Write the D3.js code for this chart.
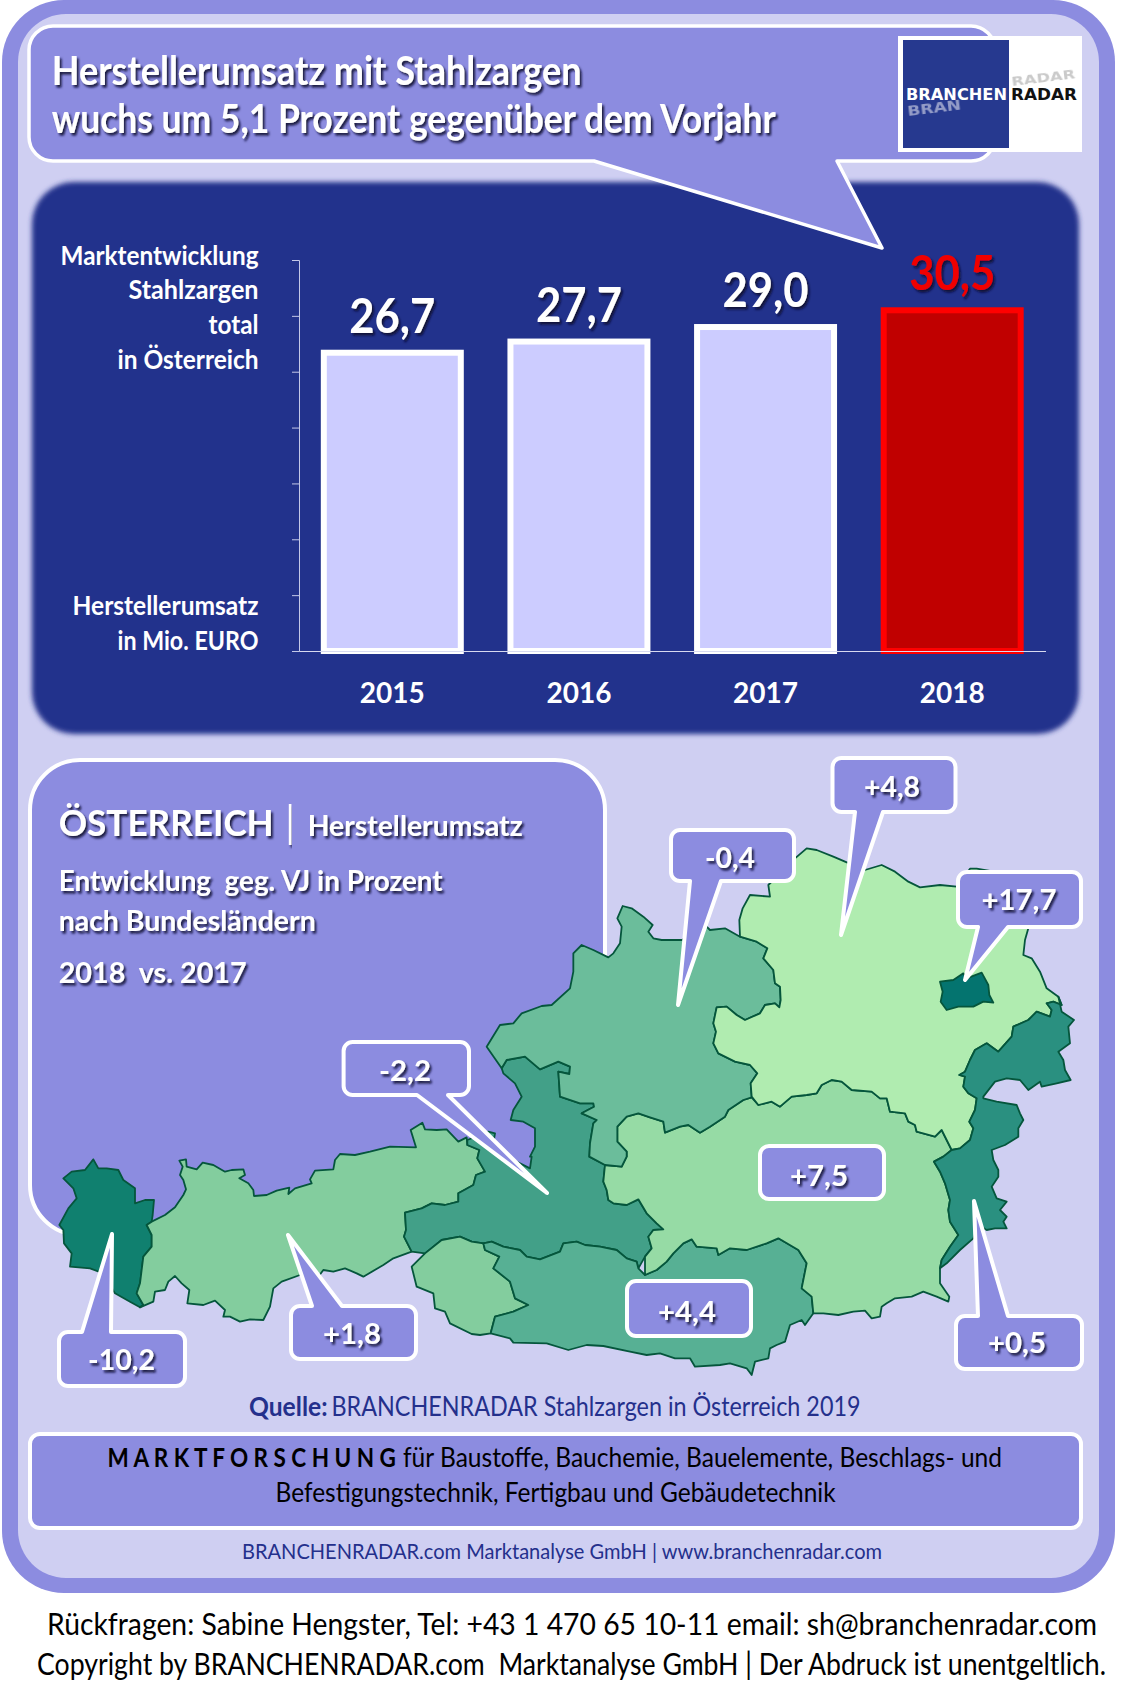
<!DOCTYPE html>
<html lang="de">
<head>
<meta charset="utf-8">
<script src="https://cdn.jsdelivr.net/npm/d3@7/dist/d3.min.js"></script>
<style>
html,body{margin:0;padding:0;background:#fff}
svg{display:block}
text{font-family:Lato,"Open Sans",sans-serif}
</style>
</head>
<body>
<svg id="chart" width="1122" height="1688" viewBox="0 0 1122 1688"></svg>
<script>
/* ---------- chart data ---------- */
const years = ["2015","2016","2017","2018"];
const revenue = [26.7,27.7,29.0,30.5];
const axisTicks = [0,5,10,15,20,25,30,35];
const states = ["Vorarlberg","Tirol","Salzburg","Osttirol","Kaernten","Steiermark","Oberoesterreich","Niederoesterreich","Burgenland","Wien"];
const stateColors = ["#10806f","#83cd9e","#42a088","#83cd9e","#57b094","#96dba5","#6bbd9b","#b0ecb0","#2a9080","#04746f"];
const calloutValues = [4.8,-0.4,17.7,-2.2,7.5,4.4,-10.2,1.8,0.5];

/* ---------- map outline in tile coordinates ---------- */
const t = (ox,oy,p)=>p.map(([x,y])=>[ox+x/3,oy+y/3]);
const T4=(p)=>t(40,1120,p), T5=(p)=>t(390,1030,p), T6=(p)=>t(400,1190,p),
      T7=(p)=>t(480,890,p), T8=(p)=>t(700,830,p), T9=(p)=>t(780,1070,p);
const rev = a=>a.slice().reverse();

const aVT = T4([[335,305],[320,315],[335,345],[335,380],[310,410],[305,450],[300,490],[290,520],[310,555],[300,562]]);
const vorOuter = T4([[270,545],[225,520],[190,460],[150,445],[90,440],[95,400],[72,370],[70,330],[58,315],[85,265],[110,235],[100,205],[70,175],[95,155],[135,150],[160,118],[175,145],[200,145],[235,150],[250,180],[285,205],[285,250],[315,240],[342,240],[338,285]]);
const tirolN = T4([[375,285],[405,262],[430,225],[438,208],[430,180],[420,165],[428,140],[418,122],[438,118],[440,140],[470,148],[488,128],[520,135],[555,155],[575,150],[610,148],[615,165],[598,175],[625,190],[640,210],[642,228],[680,225],[710,212],[748,203],[745,222],[765,205],[815,190],[810,178],[825,152],[880,148],[885,120],[900,102],[945,105],[990,95],[1050,80]])
  .concat(T5([[78,352],[62,300],[97,278],[105,298],[140,300],[170,298],[205,335],[230,322]]));
const aTS = T5([[232,345],[268,360],[262,385],[285,425],[258,435],[250,465],[205,490],[205,515],[165,525],[125,520],[95,535],[45,548],[48,600],[42,620],[65,665]]);
const tirolS = T4([[1060,415],[1030,435],[970,470],[950,460],[915,445],[880,455],[850,450],[835,470],[780,465],[725,485],[700,505],[690,560],[670,600],[630,598],[600,605],[570,590],[550,590],[555,570],[525,542],[490,555],[442,550],[448,510],[425,490],[405,468],[385,485],[375,510],[345,515],[340,545]]);
const aSE = T6([[75,190],[125,150],[180,140],[215,155],[250,160]]);
const aSK = T6([[275,155],[310,170],[360,180],[380,200],[420,208],[480,185],[490,160],[530,155],[555,165],[600,170],[650,180],[680,205],[710,215],[715,235]]);
const aSSt = T6([[735,200],[755,175],[745,140],[760,120],[790,118],[770,100],[740,70],[715,28],[680,45],[640,40],[625,30],[620,0]]).concat(T5([[640,455],[645,405]]));
const aSO = T7([[375,825],[328,800],[330,760],[340,700],[350,690],[305,670],[342,650],[340,640],[300,640],[240,620],[235,545],[268,552],[270,530],[235,515],[180,538],[135,500],[80,510],[65,535]]);
const salzW = T7([[70,550],[105,580],[125,620],[100,660],[92,690],[130,695],[165,715],[165,770],[150,800]]).concat(T5([[425,380],[420,415],[360,385],[310,340],[315,310],[295,305],[232,330]]));
const aEK = T6([[255,180],[298,200],[280,235],[330,275],[345,325],[385,345],[340,365],[285,380],[272,430]]);
const etOuter = T6([[240,435],[215,432],[150,400],[135,365],[105,355],[100,310],[50,290],[35,230]]);
const aKSt = T6([[735,255],[770,240],[800,215],[820,190],[850,160],[875,148],[890,170],[950,175],[955,195],[990,175],[1040,180],[1100,160],[1135,145],[1195,180],[1220,220],[1205,295],[1235,320],[1240,370]]);
const kOuter = T6([[1215,405],[1205,390],[1170,405],[1155,455],[1130,465],[1110,475],[1105,505],[1065,515],[1055,555],[1040,535],[990,520],[960,525],[885,530],[870,505],[825,505],[780,490],[740,495],[690,485],[610,468],[560,465],[505,480],[440,460],[340,458],[330,445]]);
const aOSt = T7([[425,830],[440,800],[440,785],[412,755],[412,710],[440,680],[475,670],[510,682],[550,695],[555,728],[600,710],[625,705],[660,728],[690,710],[735,680],[745,660],[790,630],[815,622]]);
const aNSt = T8([[175,825],[215,815],[240,830]]).concat(T9([[35,80],[80,75],[110,70],[125,45],[155,30],[185,35],[215,60],[275,65],[300,85],[320,85],[330,125],[375,130],[385,155],[405,165],[410,185],[465,200],[485,180],[500,210],[515,240]]));
const burgW = T9([[490,260],[462,275],[480,305],[495,340],[510,390],[505,420],[510,455],[535,495],[510,530],[485,570],[480,595]]);
const stOuter = T9([[480,640],[508,680],[505,695],[470,680],[430,665],[395,680],[345,685],[320,700],[305,710],[300,740],[275,745],[255,722],[220,725],[175,735],[130,730]]);
const ooNorth = T7([[20,470],[60,405],[100,400],[125,370],[185,348],[215,345],[270,295],[280,245],[280,190],[305,165],[340,180],[385,202],[400,190],[420,160],[425,110],[412,85],[428,48],[455,55],[490,80],[518,105],[505,125],[520,145],[545,150],[605,150],[680,110],[690,120],[735,115],[780,140]]);
const aON = T7([[830,155],[862,175],[850,205],[880,240],[885,280],[900,290],[902,330],[898,352],[885,340],[855,345],[840,370],[795,390],[770,375],[740,350],[710,352],[700,400],[708,425],[700,460],[715,490],[765,515],[810,525],[832,550],[812,580],[815,620]]);
const nOuter = T8([[120,320],[118,270],[128,235],[150,195],[210,200],[205,165],[285,85],[320,55],[350,60],[400,80],[435,95],[495,120],[545,105],[585,125],[625,155],[660,172],[720,165],[770,170],[810,116],[830,116],[900,128],[985,295],[975,330],[970,375],[995,385],[1020,425],[1040,475],[1075,500]]);
const aNB = T8([[1085,525],[1060,515],[1040,520],[1055,540],[1050,560],[1010,545],[985,570],[940,590],[935,620],[895,665],[860,640],[825,660],[810,690],[795,725],[778,735],[795,740],[790,770],[805,790]]).concat(T9([[590,85],[585,120],[568,155],[580,175],[570,210],[540,235],[515,240]]));
const bOuter = T8([[1075,500],[1085,545],[1122,570],[1105,590],[1110,640],[1075,665],[1090,690],[1095,720],[1112,750],[1070,760],[1025,770],[1020,755],[985,780],[960,750],[920,745],[885,755],[850,800]]).concat(T9([[610,85],[650,95],[710,105],[720,130],[730,150],[715,175],[715,200],[675,225],[635,240],[640,270],[655,300],[655,320],[635,350],[650,385],[680,395],[660,420],[680,440],[670,455],[680,475],[645,475],[620,480],[595,465],[580,505],[540,540],[500,580]]));
const wien = T8([[720,455],[760,450],[790,430],[800,445],[845,428],[865,465],[868,495],[880,518],[850,515],[820,530],[775,530],[740,540],[722,515],[728,485]]);

const rings = [
  aVT.concat(vorOuter),
  [aVT[0]].concat(tirolN,aTS,tirolS,rev(aVT)),
  aTS.concat(aSE,aSK,aSSt,aSO.slice(1),salzW),
  T6([[250,160]]).concat(aEK,etOuter,aSE.slice(0,4)),
  T6([[250,160]]).concat(aSK,aKSt,kOuter,rev(aEK)),
  aSSt.concat(aOSt,aNSt,burgW,stOuter,rev(aKSt)),
  aSO.concat(ooNorth,aON,rev(aOSt)),
  nOuter.concat(aNB,rev(aNSt),rev(aON)),
  bOuter.concat(rev(burgW),rev(aNB)),
  wien
];

/* ---------- layout ---------- */
const svg = d3.select("#chart");
const PURPLE="#8c8ce0", LAV="#cfcff2", NAVY="#24308c";

const defs = svg.append("defs");
const shadow = defs.append("filter").attr("id","shadow").attr("x","-10%").attr("y","-20%").attr("width","125%").attr("height","150%");
shadow.append("feDropShadow").attr("dx",2).attr("dy",2.5).attr("stdDeviation",0.8).attr("flood-color","#0a0a30").attr("flood-opacity",0.9);
defs.append("filter").attr("id","soft").attr("x","-5%").attr("y","-5%").attr("width","110%").attr("height","110%")
  .append("feGaussianBlur").attr("stdDeviation",2.5);
defs.append("filter").attr("id","ghost").append("feGaussianBlur").attr("stdDeviation",0.5);

function label(g,str,x,y,o){
  const el=g.append("text").attr("x",x).attr("y",y).text(str)
    .attr("font-size",o.size).attr("font-weight",o.weight||700)
    .attr("fill",o.fill||"#fff").attr("text-anchor",o.anchor||"start");
  if(o.width) el.attr("textLength",o.width).attr("lengthAdjust","spacingAndGlyphs");
  if(o.shadow) el.attr("filter","url(#shadow)");
  return el;
}
function callout(g,x,y,w,h,r,tail){
  const p=d3.path(), R=x+w, B=y+h;
  const up=tail&&tail[1][1]<y;
  p.moveTo(x+r,y);
  if(up){p.lineTo(tail[0],y);p.lineTo(tail[1][0],tail[1][1]);p.lineTo(tail[2],y);}
  p.lineTo(R-r,y); p.arcTo(R,y,R,y+r,r); p.lineTo(R,B-r); p.arcTo(R,B,R-r,B,r);
  if(tail&&!up){p.lineTo(tail[2],B);p.lineTo(tail[1][0],tail[1][1]);p.lineTo(tail[0],B);}
  p.lineTo(x+r,B); p.arcTo(x,B,x,B-r,r); p.lineTo(x,y+r); p.arcTo(x,y,x+r,y,r); p.closePath();
  return g.append("path").attr("d",p.toString()).attr("fill",PURPLE).attr("stroke","#fff").attr("stroke-width",4).attr("stroke-linejoin","round");
}

/* frame */
svg.append("rect").attr("x",2).attr("y",0).attr("width",1113).attr("height",1593).attr("rx",62).attr("fill",PURPLE);
svg.append("rect").attr("x",18).attr("y",14).attr("width",1081).attr("height",1564).attr("rx",48).attr("fill",LAV);

/* chart panel */
svg.append("rect").attr("x",32).attr("y",182).attr("width",1047).attr("height",552).attr("rx",42).attr("fill",NAVY).attr("filter","url(#soft)");

/* header callout */
const head=svg.append("g");
callout(head,29,26,966,135,24,[594,[882,248],837]).attr("stroke-width",3.5);
label(head,"Herstellerumsatz mit Stahlzargen",51.7,85,{size:40,width:530,shadow:true});
label(head,"wuchs um 5,1 Prozent gegenüber dem Vorjahr",51.7,133,{size:40,width:724,shadow:true});

/* logo */
const logo=svg.append("g");
logo.append("rect").attr("x",898).attr("y",36).attr("width",184).attr("height",116).attr("fill","#fff");
logo.append("rect").attr("x",903).attr("y",40).attr("width",106).attr("height",108).attr("fill","#26398f");
const logoFont='"DejaVu Sans",sans-serif';
label(logo,"BRAN",908,116,{size:14,width:54,fill:"#cfd2e6"}).style("font-family",logoFont).attr("opacity",.65)
  .attr("transform","rotate(-7 908 116)").attr("filter","url(#ghost)");
label(logo,"RADAR",1012,86,{size:13,width:64,fill:"#bdbdbd"}).style("font-family",logoFont).attr("opacity",.8)
  .attr("transform","rotate(-7 1012 86)").attr("filter","url(#ghost)");
label(logo,"BRANCHEN",906,100,{size:16,width:101}).style("font-family",logoFont);
label(logo,"RADAR",1011,100,{size:16,width:66,fill:"#111"}).style("font-family",logoFont);

/* bars */
const x=d3.scaleBand().domain(years).range([299,1045.5]).paddingInner(.266).paddingOuter(.133);
const y=d3.scaleLinear().domain([0,35]).range([651,260]);
const fmt=v=>v.toFixed(1).replace(".",",");
const axisL=svg.append("g").attr("transform","translate(299,0)")
  .call(d3.axisLeft(y).tickValues(axisTicks).tickSize(7).tickFormat(""));
axisL.selectAll("path,line").attr("stroke","#c4c8e8").attr("stroke-width",1);
svg.selectAll("rect.bar").data(years).join("rect").attr("class","bar")
  .attr("x",d=>x(d)).attr("width",x.bandwidth())
  .attr("y",(d,i)=>y(revenue[i])).attr("height",(d,i)=>y(0)-y(revenue[i]))
  .attr("fill",(d,i)=>i===3?"#c00000":"#ccccff")
  .attr("stroke",(d,i)=>i===3?"#ff0000":"#fff").attr("stroke-width",6);
const axisB=svg.append("g").attr("transform","translate(0,651)").call(d3.axisBottom(x).tickSize(0).tickPadding(0));
axisB.select("path").attr("stroke","#d8daf0").attr("stroke-width",1);
axisB.selectAll("text").attr("y",52).attr("dy",0).attr("font-size",29).attr("font-weight",700).attr("fill","#fff")
  .attr("textLength",65).attr("lengthAdjust","spacingAndGlyphs").style("font-family","Lato,sans-serif");
const valueG=svg.append("g");
years.forEach((d,i)=>label(valueG,fmt(revenue[i]),x(d)+x.bandwidth()/2,y(revenue[i])-20,
  {size:48,width:86,anchor:"middle",fill:i===3?"#f00000":"#fff",shadow:true}));

/* axis captions */
const capG=svg.append("g");
[["Marktentwicklung",265,198],["Stahlzargen",299,130],["total",334,50],["in Österreich",369,141],["Herstellerumsatz",615,186],["in Mio. EURO",650,141]]
  .forEach(c=>label(capG,c[0],258.5,c[1],{size:27,width:c[2],anchor:"end"}));

/* map intro panel */
const panel=svg.append("g");
panel.append("rect").attr("x",30).attr("y",760).attr("width",575).attr("height",475).attr("rx",50).attr("fill",PURPLE).attr("stroke","#fff").attr("stroke-width",4);
label(panel,"ÖSTERREICH",58.7,836,{size:37,width:215,weight:700,shadow:true});
panel.append("rect").attr("x",288.8).attr("width",2.6).attr("y",804).attr("height",41).attr("fill","#fff").attr("filter","url(#shadow)");
label(panel,"Herstellerumsatz",307.7,836,{size:28,width:215,shadow:true});
label(panel,"Entwicklung  geg. VJ in Prozent",58.7,891,{size:28,width:384,shadow:true}).attr("xml:space","preserve");
label(panel,"nach Bundesländern",58.7,931,{size:28,width:257,shadow:true});
label(panel,"2018  vs. 2017",58.7,983,{size:28,width:188,shadow:true}).attr("xml:space","preserve");

/* map */
const geo=d3.geoPath(d3.geoIdentity());
const features=states.map((s,i)=>({type:"Feature",properties:{name:s},geometry:{type:"Polygon",coordinates:[rings[i].concat([rings[i][0]])]}}));
svg.append("g").selectAll("path").data(features).join("path")
  .attr("d",geo).attr("fill",(d,i)=>stateColors[i])
  .attr("stroke","#05563c").attr("stroke-width",1.8).attr("stroke-linejoin","round");

/* value callouts: box x, y, w, h, tail */
const boxes=[
  [832.5,758,123,54,[855,[841,935],883]],
  [671,830,123,51,[690,[678,1005],721]],
  [958,872,123,55,[978,[965,980],1008]],
  [343.6,1042,125.4,53,[417,[547,1193],448]],
  [760,1146,124,53,null],
  [627,1281,124,55,null],
  [59,1332,126,54,[82,[112,1234],111]],
  [291,1306,125,53,[312,[288,1235],342]],
  [956,1316,126,53,[978,[974,1201],1008]]
];
const calloutText=[[892,797,56],[730,868,50],[1019,910,75],[405,1081,52],[819,1186,58],[687,1322,58],[121.6,1370,67],[352,1344,58],[1017,1353,58]];
const cG=svg.append("g");
boxes.forEach(b=>callout(cG,b[0],b[1],b[2],b[3],9,b[4]));
calloutValues.forEach((v,i)=>{
  const c=calloutText[i];
  label(cG,(v>0?"+":"-")+fmt(Math.abs(v)),c[0],c[1],{size:28,width:c[2],anchor:"middle",shadow:true});
});

/* footer */
const foot=svg.append("g");
label(foot,"Quelle:",249,1416,{size:27,width:78.5,fill:NAVY});
label(foot,"BRANCHENRADAR Stahlzargen in Österreich 2019",331.5,1416,{size:27,width:529,weight:400,fill:NAVY});
foot.append("rect").attr("x",30).attr("y",1434).attr("width",1051).attr("height",94).attr("rx",10).attr("fill",PURPLE).attr("stroke","#fff").attr("stroke-width",4);
label(foot,"M A R K T F O R S C H U N G",107.4,1467,{size:26,width:288.5,fill:"#000"});
label(foot,"für Baustoffe, Bauchemie, Bauelemente, Beschlags- und",403,1467,{size:26,width:599,weight:400,fill:"#000"});
label(foot,"Befestigungstechnik, Fertigbau und Gebäudetechnik",275.6,1502,{size:26,width:560,weight:400,fill:"#000"});
label(foot,"BRANCHENRADAR.com Marktanalyse GmbH | www.branchenradar.com",242,1559,{size:22,width:640,weight:400,fill:NAVY});
label(foot,"Rückfragen: Sabine Hengster, Tel: +43 1 470 65 10-11 email: sh@branchenradar.com",47,1635,{size:30,width:1050,weight:400,fill:"#000"});
label(foot,"Copyright by BRANCHENRADAR.com  Marktanalyse GmbH | Der Abdruck ist unentgeltlich.",37,1675,{size:30,width:1069,weight:400,fill:"#000"}).attr("xml:space","preserve");
</script>
</body>
</html>
